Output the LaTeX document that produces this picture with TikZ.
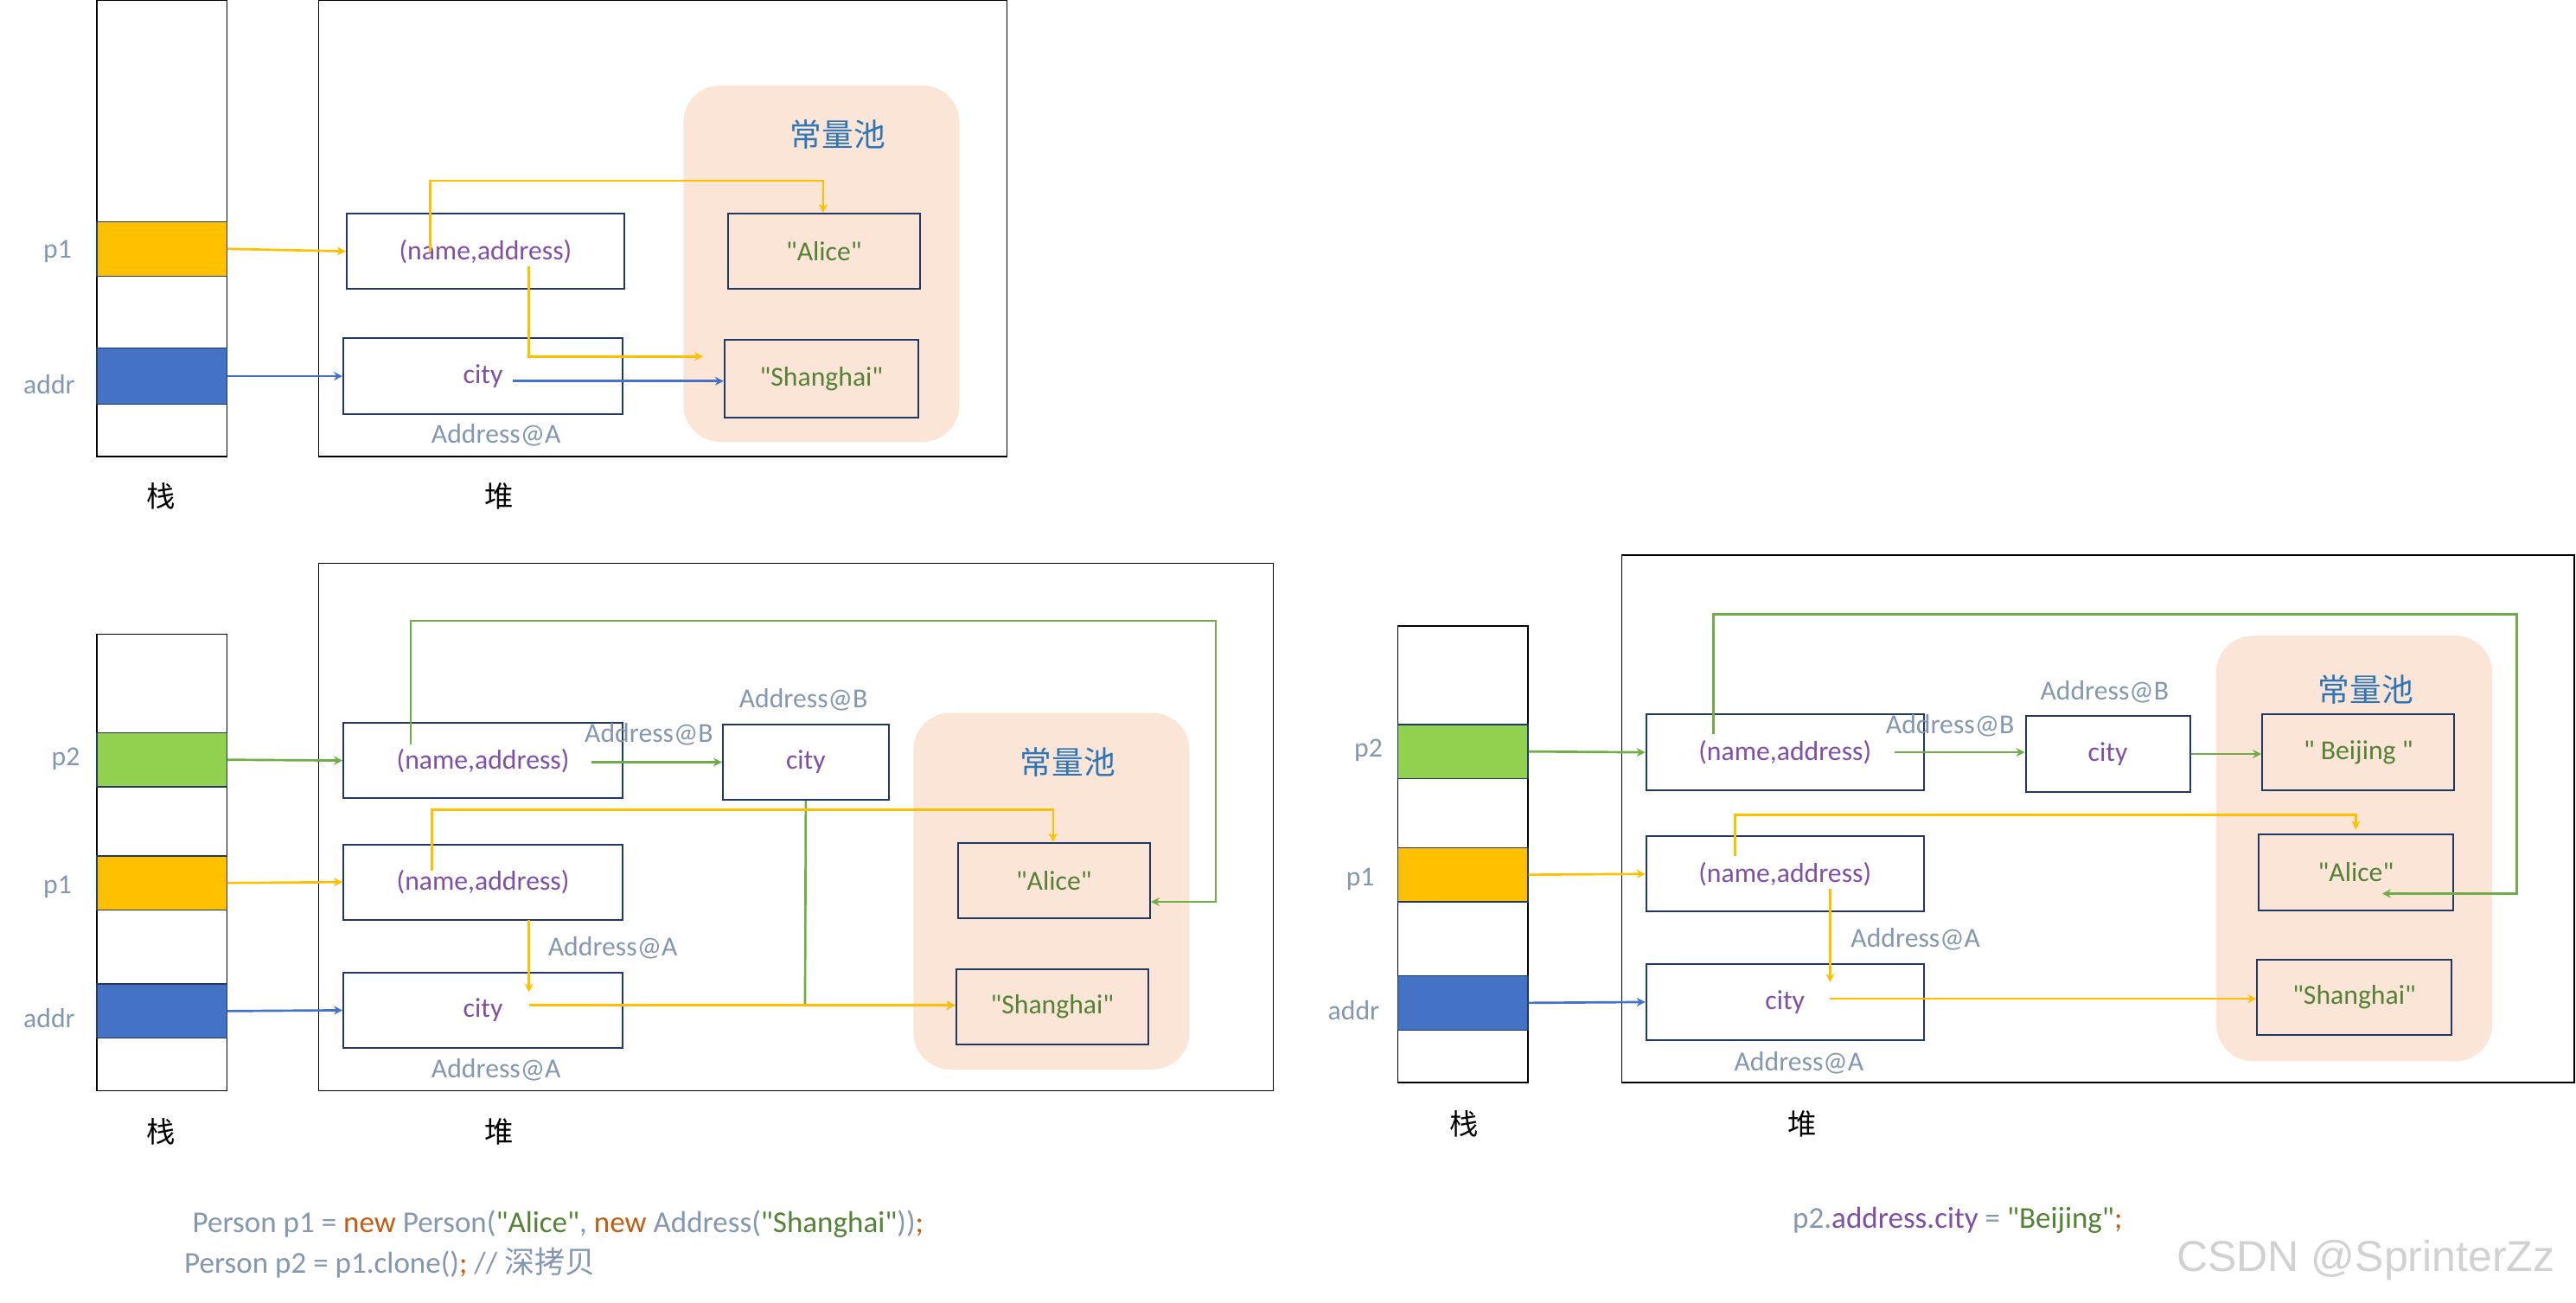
\documentclass[tikz,border=0pt]{standalone}
\usepackage{fontspec}
\setmainfont{Carlito}[Ligatures=TeXOff]
\newfontfamily\cjk{Noto Sans CJK SC}
\newfontfamily\wmark{Liberation Sans}
\usetikzlibrary{arrows.meta}
\definecolor{ylw}{HTML}{FFC000}
\definecolor{blu}{HTML}{4472C4}
\definecolor{grn}{HTML}{92D050}
\definecolor{dgrn}{HTML}{70AD47}
\definecolor{peach}{HTML}{FBE5D6}
\definecolor{navy}{HTML}{1F3864}
\definecolor{gtxt}{HTML}{8497B0}
\definecolor{ptxt}{HTML}{7F4FA8}
\definecolor{strg}{HTML}{548235}
\definecolor{kw}{HTML}{C55A11}
\definecolor{pool}{HTML}{2E75B6}
\newcommand\q{\symbol{34}}
\newcommand\bx[6]{\node[box, minimum width={(#4-#2)*0.02cm}, minimum height={(#5-#3)*0.02cm}] (#1) at ({(#2+#4)/2},{(#3+#5)/2}) {#6};}
\newcommand\cell[6]{\node[draw=navy, fill=#6, minimum width={(#4-#2)*0.02cm}, minimum height={(#5-#3)*0.02cm}, inner sep=0] (#1) at ({(#2+#4)/2},{(#3+#5)/2}) {};}
\begin{document}
\begin{tikzpicture}[x=0.02cm, y=-0.02cm, font=\fontsize{9.5}{10}\selectfont,
  box/.style={draw=navy, semithick, inner sep=0, text=ptxt},
  lbl/.style={text=gtxt},
  frame/.style={draw=black},
  poolbg/.style={fill=peach, rounded corners=0.45cm},
  ya/.style={ylw, thick, -{Stealth[length=3pt,width=3pt]}},
  ga/.style={dgrn, thick, -{Stealth[length=3pt,width=3pt]}},
  ba/.style={blu, thick, -{Stealth[length=3pt,width=3pt]}},
  zh/.style={font=\cjk\fontsize{10}{11}\selectfont}]
\useasboundingbox (0,0) rectangle (1568,793);
% ---- panel 1
\draw[frame] (59,0) rectangle (138,278);
\draw[frame] (194,0) rectangle (613,278);
\fill[poolbg] (416,52) rectangle (584,269);
\node[zh, text=pool, font=\cjk\fontsize{11}{12}\selectfont] at (510,82) {常量池};
\cell{s1p1}{59}{135}{138}{168}{ylw}
\cell{s1ad}{59}{212}{138}{246}{blu}
\node[lbl] at (35,153) {p1};
\node[lbl] at (30,234) {addr};
\node[zh] at (98,302) {栈};
\node[zh] at (304,302) {堆};
\bx{a1}{211}{130}{380}{176}{(name,address)}
\bx{al1}{443}{130}{560}{176}{\textcolor{strg}{\q Alice\q}}
\bx{c1}{209}{206}{379}{252}{city}
\bx{sh1}{441}{207}{559}{254}{\textcolor{strg}{\q Shanghai\q}}
\node[lbl] at (302,265) {Address@A};
\draw[ya] (s1p1.east) -- (a1.west);
\draw[ba] (s1ad.east) -- (c1.west);
\draw[ya] (262,153) -- (262,110) -- (501,110) -- (al1.north -| 501,0);
\draw[ya] (322,162) -- (322,217) -- (428,217);
\draw[ba] (312,232) -- (sh1.west |- 0,232);
% ---- panel 2
\draw[frame] (59,386) rectangle (138,664);
\draw[frame] (194,343) rectangle (775,664);
\fill[poolbg] (556,434) rectangle (724,651);
\node[zh, text=pool, font=\cjk\fontsize{11}{12}\selectfont] at (650,464) {常量池};
\cell{s2p2}{59}{446}{138}{479}{grn}
\cell{s2p1}{59}{521}{138}{554}{ylw}
\cell{s2ad}{59}{599}{138}{632}{blu}
\node[lbl] at (40,462) {p2};
\node[lbl] at (35,540) {p1};
\node[lbl] at (30,620) {addr};
\node[zh] at (98,689) {栈};
\node[zh] at (304,689) {堆};
\bx{b2}{209}{440}{379}{486}{(name,address)}
\bx{a2}{209}{514}{379}{560}{(name,address)}
\bx{c2}{209}{592}{379}{638}{city}
\bx{cb2}{440}{441}{541}{487}{city}
\bx{al2}{583}{513}{700}{559}{\textcolor{strg}{\q Alice\q}}
\bx{sh2}{582}{590}{699}{636}{\textcolor{strg}{\q Shanghai\q}}
\node[lbl] at (395,447) {Address@B};
\node[lbl] at (489,426) {Address@B};
\node[lbl] at (373,577) {Address@A};
\node[lbl] at (302,651) {Address@A};
\draw[ga] (s2p2.east) -- (b2.west);
\draw[ya] (s2p1.east) -- (a2.west);
\draw[ba] (s2ad.east) -- (c2.west);
\draw[ga] (360,464) -- (cb2.west |- 0,464);
\draw[ga] (250,453) -- (250,378) -- (740,378) -- (740,549) -- (al2.east |- 0,549);
\draw[ga] (cb2.south) -- (490,612) -- (sh2.west |- 0,612);
\draw[ya] (263,530) -- (263,493) -- (641,493) -- (al2.north -| 641,0);
\draw[ya] (322,560) -- (322,604);
\draw[ya] (322,612) -- (sh2.west |- 0,612);
% ---- panel 3
\draw[frame] (851,381) rectangle (930,659);
\draw[frame] (987,338) rectangle (1567,659);
\fill[poolbg] (1349,387) rectangle (1517,646);
\node[zh, text=pool, font=\cjk\fontsize{11}{12}\selectfont] at (1440,420) {常量池};
\cell{s3p2}{851}{441}{930}{474}{grn}
\cell{s3p1}{851}{516}{930}{549}{ylw}
\cell{s3ad}{851}{594}{930}{627}{blu}
\node[lbl] at (833,457) {p2};
\node[lbl] at (828,535) {p1};
\node[lbl] at (824,615) {addr};
\node[zh] at (891,684) {栈};
\node[zh] at (1097,684) {堆};
\bx{b3}{1002}{435}{1171}{481}{(name,address)}
\bx{a3}{1002}{509}{1171}{555}{(name,address)}
\bx{c3}{1002}{587}{1171}{633}{city}
\bx{cb3}{1233}{436}{1333}{482}{city}
\bx{bj3}{1377}{435}{1494}{481}{\textcolor{strg}{\q{} Beijing \q}}
\bx{al3}{1375}{508}{1493}{554}{\textcolor{strg}{\q Alice\q}}
\bx{sh3}{1374}{584}{1492}{630}{\textcolor{strg}{\q Shanghai\q}}
\node[lbl] at (1187,442) {Address@B};
\node[lbl] at (1281,421) {Address@B};
\node[lbl] at (1166,572) {Address@A};
\node[lbl] at (1095,647) {Address@A};
\draw[ga] (s3p2.east) -- (b3.west);
\draw[ya] (s3p1.east) -- (a3.west);
\draw[ba] (s3ad.east) -- (c3.west);
\draw[ga] (1153,458) -- (cb3.west |- 0,458);
\draw[ga] (cb3.east) -- (bj3.west |- cb3.east);
\draw[ga] (1043,447) -- (1043,374) -- (1532,374) -- (1532,544) -- (1450,544);
\draw[ya] (1056,521) -- (1056,496) -- (1434,496) -- (1434,505);
\draw[ya] (1114,541) -- (1114,598);
\draw[ya] (1114,608) -- (sh3.west |- 0,608);
% ---- code lines
\node[anchor=west, font=\fontsize{10.5}{11}\selectfont, text=gtxt] at (111,745)
  {Person p1 = \textcolor{kw}{new} Person(\textcolor{strg}{\q Alice\q}, \textcolor{kw}{new} Address(\textcolor{strg}{\q Shanghai\q}))\textcolor{kw}{;}};
\node[anchor=west, font=\fontsize{10.5}{11}\selectfont, text=gtxt] at (106,769)
  {Person p2 = p1.clone()\textcolor{kw}{;} // {\cjk 深拷贝}};
\node[anchor=west, font=\fontsize{10.5}{11}\selectfont, text=gtxt] at (1085,743)
  {p2.\textcolor{ptxt}{address.city} = \textcolor{strg}{\q Beijing\q}\textcolor{kw}{;}};
\node[text=black!18, font=\wmark\fontsize{15}{16}\selectfont] at (1440,767) {CSDN @SprinterZz};
\end{tikzpicture}
\end{document}
